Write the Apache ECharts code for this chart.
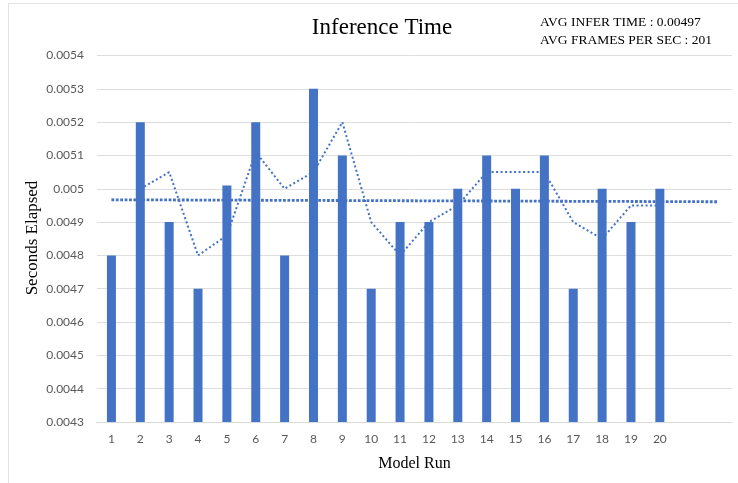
<!DOCTYPE html>
<html>
<head>
<meta charset="utf-8">
<script src="https://cdn.jsdelivr.net/npm/echarts@6/dist/echarts.min.js"></script>
<style>
html,body{margin:0;padding:0;background:#fff;}
#frame{position:absolute;left:8px;top:3px;width:730px;height:480px;border-left:1px solid #e3e3e3;border-top:1px solid #e3e3e3;}
#chart{position:absolute;left:0;top:0;width:738px;height:483px;}
</style>
</head>
<body>
<div id="frame"></div>
<div id="chart"></div>
<script>
// Categories (the trailing empty slots hold the trendline forecast)
const runs = ['1','2','3','4','5','6','7','8','9','10','11','12','13','14','15','16','17','18','19','20','',''];
// Seconds elapsed per model run
const seconds = [0.0048,0.0052,0.0049,0.0047,0.00501,0.0052,0.0048,0.0053,0.0051,0.00470,0.0049,0.0049,0.0050,0.0051,0.0050,0.0051,0.0047,0.0050,0.0049,0.0050];
// 2-period moving average
const movingAvg = [null,0.0050,0.00505,0.0048,0.00486,0.00511,0.0050,0.00505,0.0052,0.0049,0.0048,0.0049,0.00495,0.00505,0.00505,0.00505,0.0049,0.00485,0.00495,0.00495];
// Linear trendline endpoints: [category index, value]
const trendPoints = [[0,0.004967],[21,0.004961]];
// Y ticks
const yMin = 0.0043, yMax = 0.0054, yStep = 0.0001;
const yTickLabels = ['0.0043','0.0044','0.0045','0.0046','0.0047','0.0048','0.0049','0.005','0.0051','0.0052','0.0053','0.0054'];

const blue = '#4472C4';
const chart = echarts.init(document.getElementById('chart'), null, {renderer:'canvas'});
chart.setOption({
  animation:false,
  title:[
    {text:'Inference Time', left:377, top:11, textAlign:'center',
     textStyle:{fontFamily:'Liberation Serif', fontSize:23, fontWeight:'normal', color:'#000'}},
    {text:'AVG INFER TIME : 0.00497\nAVG FRAMES PER SEC : 201', left:535, top:8,
     textStyle:{fontFamily:'Liberation Serif', fontSize:13.5, fontWeight:'normal', color:'#000', lineHeight:18}}
  ],
  graphic:[
    {type:'text', x:33, y:238, rotation:Math.PI/2,
     style:{text:'Seconds Elapsed', fontFamily:'Liberation Serif', fontSize:17, fill:'#000',
            align:'center', verticalAlign:'middle'}}
  ],
  grid:{left:97, right:6, top:55.5, bottom:61},
  xAxis:{
    type:'category', data:runs, boundaryGap:true,
    name:'Model Run', nameLocation:'middle', nameGap:34,
    nameTextStyle:{fontFamily:'Liberation Serif', fontSize:16, color:'#000'},
    axisLine:{lineStyle:{color:'#d9d9d9'}},
    axisTick:{show:false},
    axisLabel:{color:'#595959', fontFamily:'Lato', fontSize:12, margin:11, interval:0}
  },
  yAxis:{
    type:'value', min:yMin, max:yMax, interval:yStep,
    axisLine:{show:false}, axisTick:{show:false},
    splitLine:{lineStyle:{color:'#dedede'}},
    axisLabel:{color:'#595959', fontFamily:'Lato', fontSize:12, margin:13,
      formatter:function(v){ const i=Math.round((v-yMin)/yStep); return yTickLabels[i]!==undefined?yTickLabels[i]:''; }}
  },
  series:[
    {type:'bar', data:seconds, barWidth:9, itemStyle:{color:blue}},
    {type:'line', data:movingAvg, symbol:'none', connectNulls:false,
     lineStyle:{color:blue, width:2, type:[2,2.5]}},
    {type:'line', data:trendPoints, symbol:'none',
     lineStyle:{color:blue, width:2.8, type:[2.8,1.6]}}
  ]
});
</script>
</body>
</html>
